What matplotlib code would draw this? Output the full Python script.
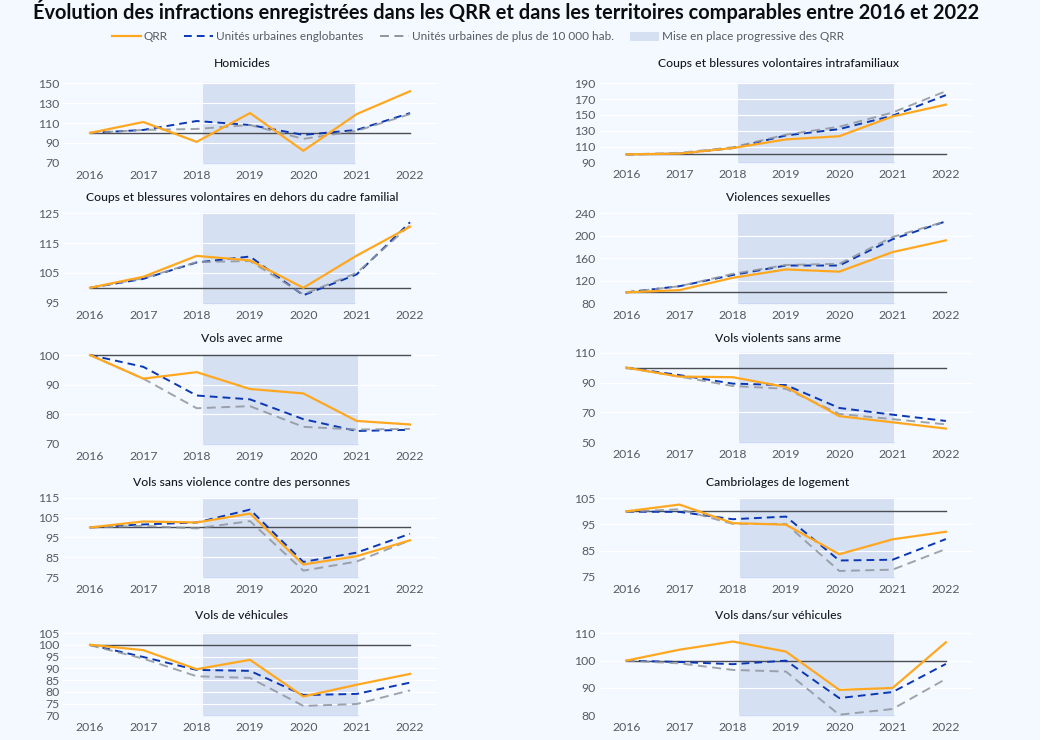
"""Evolution des infractions dans les QRR: small multiples, 5 rows x 2 columns."""
import matplotlib
matplotlib.use("Agg")
import matplotlib.pyplot as plt
from matplotlib.lines import Line2D
from matplotlib.patches import Patch

plt.rcParams["font.family"] = ["Lato", "DejaVu Sans"]

W, H = 1040, 740
BG = "#f4f8ff"
ORANGE = "#ffa81f"
BLUE = "#0b37b5"
GRAY = "#8f959e"
BAND = "#d5e0f3"
BAND_GRID = "#c9d8f4"
TXT = "#565b63"

years = [2016, 2017, 2018, 2019, 2020, 2021, 2022]

titles = [
    "Homicides",
    "Coups et blessures volontaires intrafamiliaux",
    "Coups et blessures volontaires en dehors du cadre familial",
    "Violences sexuelles",
    "Vols avec arme",
    "Vols violents sans arme",
    "Vols sans violence contre des personnes",
    "Cambriolages de logement",
    "Vols de véhicules",
    "Vols dans/sur véhicules",
]

qrr = [
    [100, 111, 91, 120, 82, 119, 142],
    [100, 101, 108, 119, 123, 148, 163],
    [100, 103.7, 110.7, 109.2, 100, 110.8, 120.5],
    [99, 103, 125, 140, 136, 171, 192],
    [100, 92, 94.2, 88.5, 87, 77.7, 76.5],
    [100, 94, 93.6, 87, 67.5, 63.4, 59.2],
    [100, 103, 102.5, 107, 81.3, 85.5, 93.5],
    [100, 102.6, 95.5, 94.9, 83.6, 89.3, 92.2],
    [100, 97.7, 89.6, 93.6, 78, 83, 87.6],
    [100, 104, 107, 103.3, 89.3, 90, 106.7],
]
englobantes = [
    [100, 103, 112, 108, 98, 103, 120],
    [100, 101, 108, 124, 132, 149, 175],
    [100, 103, 108.5, 110.5, 97.5, 104.5, 122],
    [99, 110, 130, 147, 147, 194, 226],
    [100, 96, 86.3, 85, 78.3, 74.3, 74.7],
    [100, 95, 89.3, 88.3, 73, 68.5, 64.3],
    [100, 101.5, 102.5, 109, 82.6, 87.3, 96.8],
    [99.9, 99.8, 97, 98, 81.2, 81.5, 89.4],
    [100, 94.8, 89.3, 88.9, 78.6, 79.1, 83.9],
    [100, 99.5, 98.7, 100, 86.3, 88.5, 98.8],
]
dix_mille = [
    [100, 103, 104, 108, 94, 102, 119],
    [100, 102, 109, 125, 135, 153, 180],
    [100, 103.2, 108.6, 109, 97.8, 105, 121],
    [99, 110, 132, 148, 150, 198, 226],
    [100, 92, 82, 82.7, 75.7, 74.8, 75],
    [100, 94, 87.7, 85.8, 69, 65.5, 62],
    [100, 100.8, 99.5, 103.2, 78.2, 82.8, 93.5],
    [99.9, 100.8, 95.2, 95.2, 77.2, 77.7, 85.6],
    [99.8, 94.1, 86.6, 85.9, 74, 74.8, 80.6],
    [100, 99, 96.6, 96, 80.2, 82.3, 93.3],
]
reference = [100, 100, 100, 99.2, 100, 100, 100, 100, 100, 100]
yticks = [
    [70, 90, 110, 130, 150],
    [90, 110, 130, 150, 170, 190],
    [95, 105, 115, 125],
    [80, 120, 160, 200, 240],
    [70, 80, 90, 100],
    [50, 70, 90, 110],
    [75, 85, 95, 105, 115],
    [75, 85, 95, 105],
    [70, 75, 80, 85, 90, 95, 100, 105],
    [80, 90, 100, 110],
]
band_start = [2018.12, 2018.09, 2018.12, 2018.09, 2018.12, 2018.11, 2018.12, 2018.14, 2018.12, 2018.12]
band_end = [2020.96, 2021.03, 2020.97, 2021.03, 2021.02, 2021.03, 2021.02, 2021.03, 2021.02, 2021.03]

# pixel boxes: top and bottom of each plot area (top tick / bottom tick)
tops = [83.3, 83.3, 213.3, 213.5, 355, 352.7, 497.7, 498.3, 633, 633.3]
bottoms = [162.7, 162.3, 302.7, 303, 443.7, 442.3, 577, 576.7, 715.3, 715.3]
title_y = [63.5, 63.5, 197.5, 197.5, 338, 338, 483, 483, 615.5, 615.5]

fig = plt.figure(figsize=(W / 100, H / 100), dpi=100, facecolor=BG)

for i, title in enumerate(titles):
    right = i % 2 == 1
    x0 = 599.5 if right else 63.3
    x1 = 972.5 if right else 436.7
    ax = fig.add_axes([x0 / W, 1 - bottoms[i] / H, (x1 - x0) / W, (bottoms[i] - tops[i]) / H], facecolor=BG)
    ax.set_xlim(2015.5, 2022.5)
    ax.set_ylim(yticks[i][0], yticks[i][-1])
    for s in ax.spines.values():
        s.set_visible(False)
    ax.set_yticks(yticks[i])
    ax.set_xticks(years)
    ax.tick_params(length=0, labelsize=8.8, labelcolor=TXT, pad=5)
    ax.tick_params(axis="y", pad=3)
    ax.grid(axis="y", color="white", lw=0.9, zorder=0)
    ax.axvspan(band_start[i], band_end[i], color=BAND, lw=0, zorder=1)
    ax.hlines(yticks[i], band_start[i], band_end[i], color=BAND_GRID, lw=0.9, zorder=1.5, clip_on=False)
    ax.plot([years[0], years[-1]], [reference[i]] * 2, color="#4a4d52", lw=1, zorder=2, clip_on=False)
    ax.plot(years, englobantes[i], color=BLUE, lw=1.4, ls=(0, (4, 2.6)), zorder=3, clip_on=False)
    ax.plot(years, dix_mille[i], color=GRAY, lw=1.4, ls=(0, (4.6, 2.8)), zorder=4, alpha=0.85, clip_on=False)
    ax.plot(years, qrr[i], color=ORANGE, lw=1.6, zorder=5, clip_on=False)
    cx = 778 if right else 242
    fig.text(cx / W, 1 - title_y[i] / H, title, ha="center", va="center", fontsize=8.7, color="#17191c", fontweight="medium")

fig.text(506 / W, 1 - 11 / H, "Évolution des infractions enregistrées dans les QRR et dans les territoires comparables entre 2016 et 2022",
         ha="center", va="center", fontsize=14.45, fontweight="bold", color="#0c0d0f")

handles = [
    Line2D([], [], color=ORANGE, lw=1.6),
    Line2D([], [], color=BLUE, lw=1.4, ls=(0, (4, 2.6))),
    Line2D([], [], color=GRAY, lw=1.4, ls=(0, (4.6, 2.8))),
    Patch(facecolor=BAND, edgecolor="none"),
]
labels = ["QRR", "Unités urbaines englobantes", "Unités urbaines de plus de 10 000 hab.", "Mise en place progressive des QRR"]
fig.legend(handles, labels, loc="center", bbox_to_anchor=(478 / W, 1 - 37 / H), ncols=4, frameon=False,
           fontsize=8.5, labelcolor=TXT, handlelength=2.45, handletextpad=0.25, columnspacing=1.4, borderpad=0)

fig.savefig("out.png", dpi=100, facecolor=BG)
